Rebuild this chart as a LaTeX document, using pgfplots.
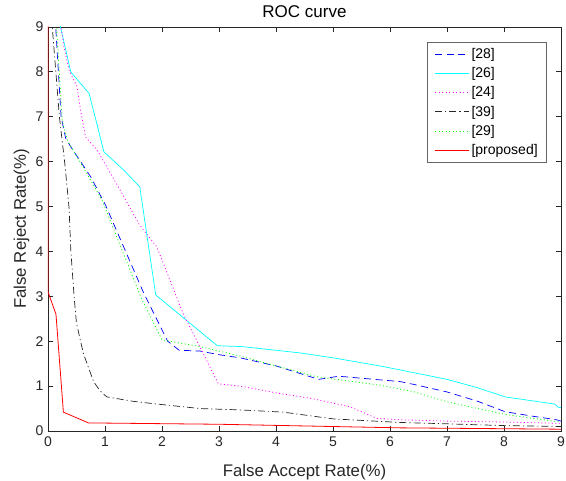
\documentclass[border=0pt]{standalone}
\usepackage{pgfplots}
\pgfplotsset{compat=1.18}
\usepackage{fontspec}
\setmainfont{Liberation Sans}
\definecolor{mblue}{rgb}{0,0,1}
\definecolor{mcyan}{rgb}{0,1,1}
\definecolor{mmag}{rgb}{1,0,1}
\definecolor{mgreen}{rgb}{0,1,0}
\definecolor{mred}{rgb}{1,0,0}
\definecolor{mblack}{rgb}{0.15,0.15,0.15}
\begin{document}
\begin{tikzpicture}
\useasboundingbox (-48pt,-50pt) rectangle (518pt,431pt);
\begin{axis}[
  at={(0pt,0pt)}, anchor=south west,
  scale only axis, width=513pt, height=404pt,
  xmin=0, xmax=9, ymin=0, ymax=9,
  xtick={0,1,...,9}, ytick={0,1,...,9},
  xtick pos=both, ytick pos=both,
  tick align=inside, major tick length=5pt,
  axis line style={mblack, line width=0.8pt},
  every tick/.style={mblack, line width=0.8pt},
  /pgf/number format/assume math mode=true,
  ticklabel style={font=\fontsize{14}{16}\selectfont, text=mblack},
  xticklabel style={yshift=-2pt},
  yticklabel style={xshift=-1pt},
  title={ROC curve},
  every axis title/.style={at={(axis description cs:0.5,1.0223)}, anchor=base, font=\fontsize{17}{19}\selectfont, inner sep=0pt},
  xlabel={False Accept Rate(\%)},
  xlabel style={at={(axis description cs:0.5,-0.1114)}, anchor=base, font=\fontsize{16.8}{19}\selectfont, text=mblack},
  ylabel={False Reject Rate(\%)},
  ylabel style={at={(axis description cs:-0.0429,0.5)}, anchor=base, font=\fontsize{16.8}{19}\selectfont, text=mblack},
  legend style={at={(axis description cs:0.9727,0.9629)}, anchor=north east,
    draw=black!60, line width=0.6pt, font=\fontsize{14}{16}\selectfont,
    inner xsep=7pt, inner ysep=4pt, row sep=3.6pt},
  legend cell align=left,
  legend image code/.code={\draw[mark repeat=2,mark phase=2,#1] plot coordinates {(0pt,0pt) (17pt,0pt) (34pt,0pt)};},
  clip=true,
]
\addplot[color=mblue, line width=0.7pt, dash pattern=on 7pt off 4.5pt] coordinates {
(0.12,9.2) (0.135,9) (0.23,7.0) (0.31,6.52) (0.4,6.33) (0.75,5.66) (1.01,5.03) (1.68,3.07) (2.1,2.0) (2.3,1.8) (2.67,1.78) (3,1.7) (3.37,1.63) (4,1.45) (4.75,1.15) (5.1,1.22) (5.82,1.14) (6.18,1.1) (6.41,1.04) (7,0.87) (7.52,0.67) (8.02,0.43) (8.5,0.33) (8.92,0.25) (9,0.22)};
\addlegendentry{[28]}
\addplot[color=mcyan, line width=0.7pt] coordinates {
(0.2,9.2) (0.22,9) (0.4,8.0) (0.72,7.52) (0.84,6.93) (0.98,6.22) (1.33,5.81) (1.61,5.44) (1.89,3.03) (2.97,1.9) (3.4,1.88) (4.42,1.74) (5.0,1.63) (5.82,1.45) (6.18,1.36) (7,1.15) (7.52,0.97) (8.02,0.76) (8.89,0.6) (8.95,0.53) (9,0.52)};
\addlegendentry{[26]}
\addplot[color=mmag, line width=0.8pt, dash pattern=on 1pt off 2.5pt] coordinates {
(0.21,9.2) (0.23,9) (0.28,8.56) (0.37,8.04) (0.51,7.67) (0.57,7.15) (0.66,6.55) (0.86,6.26) (1.3,5.29) (1.6,4.6) (1.91,4.1) (2.37,2.62) (2.99,1.05) (3.37,1.0) (4.0,0.85) (4.6,0.73) (5.3,0.54) (5.77,0.28) (6.18,0.25) (7,0.22) (8,0.2) (9,0.17)};
\addlegendentry{[24]}
\addplot[color=mblack, line width=0.7pt, dash pattern=on 7pt off 3pt on 1.2pt off 3pt] coordinates {
(0.06,9.2) (0.075,9) (0.2,7.0) (0.3,5.9) (0.37,4.96) (0.4,4.03) (0.46,2.96) (0.5,2.4) (0.62,1.73) (0.8,1.1) (0.91,0.9) (1.03,0.76) (1.5,0.66) (1.91,0.6) (2.67,0.5) (3.37,0.47) (4.13,0.42) (5.0,0.27) (6.18,0.19) (7,0.16) (8,0.12) (9,0.1)};
\addlegendentry{[39]}
\addplot[color=mgreen, line width=0.8pt, dash pattern=on 1pt off 2.5pt] coordinates {
(0.14,9.2) (0.15,9) (0.25,6.9) (0.35,6.45) (0.63,5.85) (0.95,5.14) (1.65,2.92) (2.0,2.03) (2.67,1.88) (3.37,1.67) (4.0,1.45) (4.71,1.21) (5.82,1.02) (6.4,0.88) (7.0,0.65) (8.02,0.37) (8.92,0.21) (9,0.2)};
\addlegendentry{[29]}
\addplot[color=mred, line width=0.8pt] coordinates {
(0,9.2) (0,3.1) (0.14,2.6) (0.27,0.42) (0.71,0.18) (3,0.15) (6.18,0.07) (9,0.04)};
\addlegendentry{[proposed]}
\end{axis}
\end{tikzpicture}
\end{document}
